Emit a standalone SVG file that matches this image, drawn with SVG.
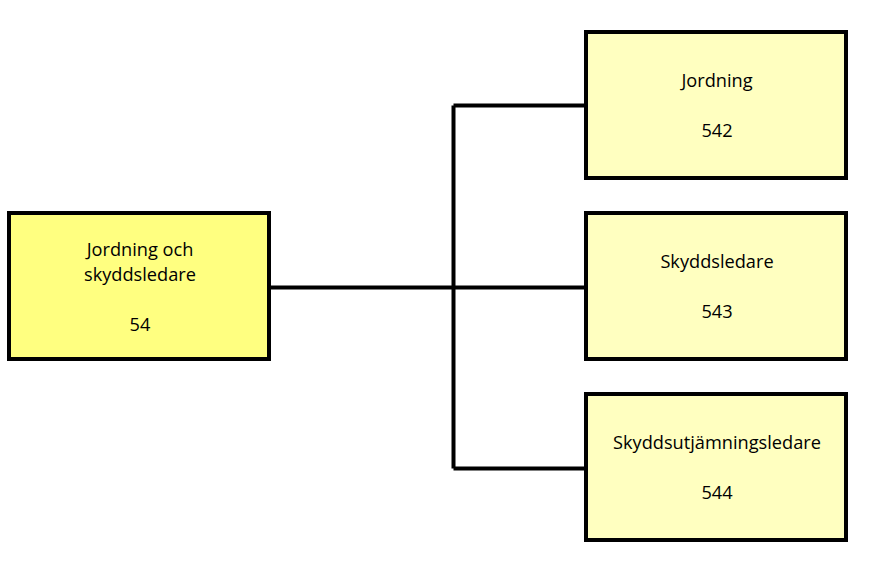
<svg xmlns="http://www.w3.org/2000/svg" width="871" height="575" viewBox="0 0 871 575">
<style>
.box{stroke:#000;stroke-width:4}
.root{fill:#FFFF80}
.child{fill:#FFFFC0}
text{font-family:"Open Sans","Noto Sans",sans-serif;font-size:18.2px;fill:#000;text-anchor:middle}
.conn{stroke:#000;stroke-width:4;fill:none}
</style>
<rect width="871" height="575" fill="#fff"/>
<g id="connectors">
<path class="conn" d="M270 287.5H453.5M453.5 105.5V468.5M453.5 105.5H586M453.5 287.5H586M453.5 468.5H586"/>
</g>
<g id="n54">
<rect class="box root" x="9" y="213" width="260" height="146"/>
<text x="140" y="256">Jordning och</text>
<text x="140" y="281">skyddsledare</text>
<text x="140" y="331">54</text>
</g>
<g id="n542">
<rect class="box child" x="586" y="32" width="260" height="146"/>
<text x="717" y="87">Jordning</text>
<text x="717" y="137">542</text>
</g>
<g id="n543">
<rect class="box child" x="586" y="213" width="260" height="146"/>
<text x="717" y="268">Skyddsledare</text>
<text x="717" y="318">543</text>
</g>
<g id="n544">
<rect class="box child" x="586" y="394" width="260" height="146"/>
<text x="717" y="449">Skyddsutjämningsledare</text>
<text x="717" y="499">544</text>
</g>
</svg>
